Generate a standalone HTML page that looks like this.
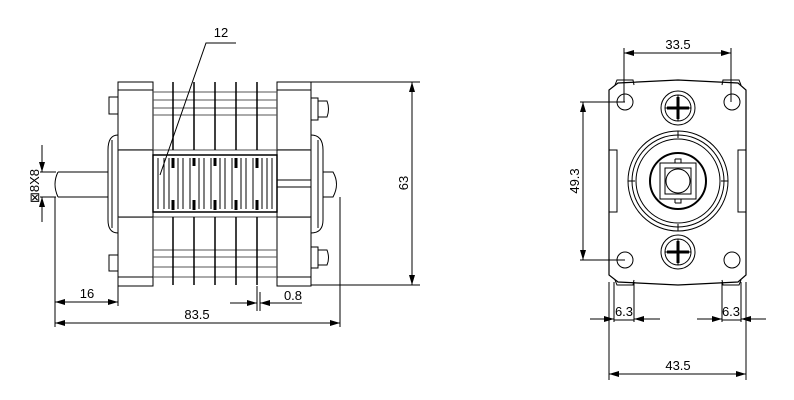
<!DOCTYPE html>
<html><head><meta charset="utf-8"><style>
html,body{margin:0;padding:0;background:#fff}
svg{display:block}
text{font-family:"Liberation Sans",sans-serif;font-size:13px;fill:#000}
</style></head><body>
<svg width="794" height="400" viewBox="0 0 794 400" xmlns="http://www.w3.org/2000/svg">
<defs>
<marker id="a" viewBox="0 0 10 6" refX="10" refY="3" markerWidth="10" markerHeight="6" orient="auto-start-reverse" markerUnits="userSpaceOnUse"><path d="M0,0 L10,3 L0,6 z" fill="#000"/></marker>
</defs>
<g fill="none" stroke="#000" stroke-width="1">
<!-- left view -->
<!-- shaft -->
<path d="M58,172 L108,172 M58,197 L108,197 M58,172 Q52,184 58,197"/>
<!-- left flange -->
<path d="M118,135 Q108,135 108,150 L108,220 Q108,233 118,233"/>
<line x1="112" y1="140" x2="112" y2="228"/>
<!-- left tabs -->
<rect x="109" y="97" width="9" height="17"/>
<rect x="109" y="255" width="9" height="16"/>
<!-- end plates -->
<rect x="118" y="82" width="35" height="204"/>
<line x1="118" y1="90" x2="153" y2="90"/><line x1="118" y1="277" x2="153" y2="277"/>
<rect x="277" y="82" width="34" height="204"/>
<line x1="277" y1="90" x2="311" y2="90"/><line x1="277" y1="277" x2="311" y2="277"/>
<!-- center band -->
<line x1="118" y1="150" x2="311" y2="150" stroke="#888" stroke-width="1.5"/>
<line x1="118" y1="217" x2="311" y2="217" stroke="#888" stroke-width="1.5"/>
<rect x="118" y="150" width="35" height="67" fill="#fff"/>
<rect x="277" y="150" width="34" height="67" fill="#fff"/>
<line x1="277" y1="180" x2="311" y2="180"/><line x1="277" y1="187" x2="311" y2="187"/>
<rect x="153" y="155" width="124" height="57" stroke-width="1.5"/>
<path d="M158,158 L158,209 M164,158 L164,209 M169,158 L169,209 M178,158 L178,209 M183,158 L183,209 M190,158 L190,209 M199,158 L199,209 M204,158 L204,209 M211,158 L211,209 M220,158 L220,209 M225,158 L225,209 M232,158 L232,209 M241,158 L241,209 M246,158 L246,209 M253,158 L253,209 M262,158 L262,209 M267,158 L267,209 M272,158 L272,209"/>
<g stroke-width="3"><path d="M173,158 L173,168 M194,158 L194,166 M215,158 L215,166 M236,158 L236,168 M257,158 L257,168 M173,200 L173,210 M194,200 L194,210 M215,200 L215,210 M236,200 L236,210 M257,200 L257,210"/></g>
<!-- rods -->
<path d="M153,92 L277,92 M153,100 L277,100 M153,108 L277,108 M153,115 L277,115 M153,250 L277,250 M153,257 L277,257 M153,267 L277,267 M153,277 L277,277" stroke="#555"/>
<!-- wafers -->
<g stroke-width="1.5">
<path d="M173,82 L173,150 M194,82 L194,150 M215,82 L215,150 M236,82 L236,150 M257,82 L257,150"/>
<path d="M173,217 L173,285 M194,217 L194,285 M215,217 L215,285 M236,217 L236,285 M257,217 L257,285"/>
</g>
<!-- right flange / nub / pins -->
<path d="M311,135 Q323,135 323,150 L323,220 Q323,233 311,233"/>
<line x1="318" y1="140" x2="318" y2="228"/>
<path d="M323,172 L333,172 Q340,184 333,197 L323,197"/>
<path d="M311,98 L318,98 L318,120 L311,120 M318,101 L327,101 Q330,109 327,117 L318,117"/>
<path d="M311,247 L318,247 L318,268 L311,268 M318,250 L327,250 Q330,258 327,265 L318,265"/>
<!-- leader 12 -->
<path d="M236,43 L206,43 L160,175"/>
<!-- 63 -->
<path d="M311,82 L420,82 M311,285 L420,285"/>
<line x1="412" y1="82" x2="412" y2="285" marker-start="url(#a)" marker-end="url(#a)"/>
<!-- 8x8 -->
<path d="M40,172 L56,172 M40,197 L56,197"/>
<line x1="42" y1="145" x2="42" y2="172" marker-end="url(#a)"/>
<line x1="42" y1="222" x2="42" y2="197" marker-end="url(#a)"/>
<!-- 16 / 83.5 -->
<path d="M55,197 L55,327 M118,286 L118,306 M340,197 L340,327"/>
<line x1="55" y1="302" x2="118" y2="302" marker-start="url(#a)" marker-end="url(#a)"/>
<line x1="55" y1="323" x2="340" y2="323" marker-start="url(#a)" marker-end="url(#a)"/>
<!-- 0.8 -->
<path d="M257,286 L257,311 M260,292 L260,311"/>
<line x1="230" y1="303" x2="257" y2="303" marker-end="url(#a)"/>
<line x1="302" y1="303" x2="260" y2="303" marker-end="url(#a)"/>

<!-- right view -->
<path d="M624,53 L731,53" marker-start="url(#a)" marker-end="url(#a)"/>
<path d="M624,48 L624,102 M731,48 L731,102"/>
<path d="M618,83 L678,80 L738,83 L746,90 L746,275 L738,282 L678,285 L618,282 L609,275 L609,90 Z" stroke-width="1.2"/>
<path d="M615,85 L617,80 L633,80 L634,85 M722,85 L723,80 L739,80 L741,85"/>
<path d="M615,280 L617,285 L633,285 L634,280 M722,280 L723,285 L739,285 L741,280"/>
<circle cx="625" cy="102" r="8"/><circle cx="732" cy="102" r="8"/>
<circle cx="625" cy="260" r="8"/><circle cx="732" cy="260" r="8"/>
<circle cx="678" cy="108" r="17"/><circle cx="678" cy="108" r="13"/>
<circle cx="678" cy="252" r="17"/><circle cx="678" cy="252" r="13"/>
<g stroke-width="3"><path d="M667,108 L689,108 M678,97 L678,119 M667,252 L689,252 M678,241 L678,263"/></g>
<path d="M665,108 L691,108 M678,95 L678,121 M665,252 L691,252 M678,239 L678,265"/>
<circle cx="678" cy="181" r="50"/><circle cx="678" cy="181" r="46"/><circle cx="678" cy="181" r="42"/>
<circle cx="678" cy="181" r="28" stroke-width="2"/>
<rect x="660" y="163" width="36" height="36"/>
<rect x="665" y="168" width="26" height="26"/>
<circle cx="678" cy="181" r="12"/>
<path d="M678,131 L678,138 M678,224 L678,231 M628,181 L635,181 M721,181 L728,181"/>
<path d="M675,159 L681,159 L681,163 M675,163 L675,159 M675,203 L681,203 L681,199 M675,199 L675,203"/>
<path d="M609,150 L617,150 L617,212 L609,212 M744,150 L746,150 M746,212 L738,212 L738,150 L746,150"/>
<!-- 49.3 -->
<path d="M580,102 L625,102 M580,260 L625,260"/>
<line x1="583" y1="102" x2="583" y2="260" marker-start="url(#a)" marker-end="url(#a)"/>
<!-- 6.3 -->
<path d="M614,282 L614,322 M634,282 L634,322 M722,282 L722,322 M741,282 L741,322"/>
<line x1="590" y1="319" x2="614" y2="319" marker-end="url(#a)"/>
<line x1="660" y1="319" x2="634" y2="319" marker-end="url(#a)"/>
<line x1="697" y1="319" x2="722" y2="319" marker-end="url(#a)"/>
<line x1="766" y1="319" x2="741" y2="319" marker-end="url(#a)"/>
<path d="M614,320 L634,320 M722,320 L741,320"/>
<!-- 43.5 -->
<path d="M609,282 L609,380 M746,282 L746,380"/>
<line x1="609" y1="374" x2="746" y2="374" marker-start="url(#a)" marker-end="url(#a)"/>
</g>
<g>
<text x="221" y="37" text-anchor="middle" font-size="15">12</text>
<text x="0" y="0" text-anchor="middle" transform="translate(408,183) rotate(-90)">63</text>
<text x="0" y="0" text-anchor="middle" transform="translate(39,186) rotate(-90)">⊠8X8</text>
<text x="87" y="298" text-anchor="middle">16</text>
<text x="197" y="319" text-anchor="middle">83.5</text>
<text x="293" y="300" text-anchor="middle">0.8</text>
<text x="678" y="49" text-anchor="middle">33.5</text>
<text x="0" y="0" text-anchor="middle" transform="translate(579,181) rotate(-90)">49.3</text>
<text x="624" y="316" text-anchor="middle">6.3</text>
<text x="731" y="316" text-anchor="middle">6.3</text>
<text x="678" y="370" text-anchor="middle">43.5</text>
</g>
</svg>
</body></html>
